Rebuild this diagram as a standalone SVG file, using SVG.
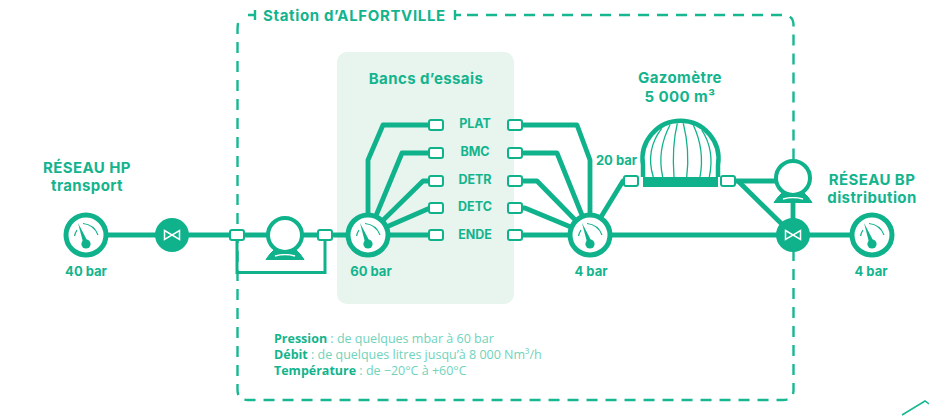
<svg xmlns="http://www.w3.org/2000/svg" xmlns:xlink="http://www.w3.org/1999/xlink" width="929" height="416" viewBox="0 0 929 416">
<style>
text{font-family:"Inter","Open Sans",sans-serif;fill:#13b48d;font-weight:700}
.t{font-size:15px;text-anchor:middle;letter-spacing:.4px}
.l{font-size:12.500px;text-anchor:middle}
.b{font-size:13px;text-anchor:middle}
.p{font-family:"Open Sans",sans-serif;font-size:12.500px;font-weight:400;fill:#6fd3bb}
.p tspan{font-weight:700;fill:#13b48d}
.pipe{fill:none;stroke:#10b28c;stroke-width:4.800;stroke-linejoin:round}
.thin{fill:none;stroke:#10b28c;stroke-width:3}
.dash{fill:none;stroke:#17b792;stroke-width:2.400;stroke-dasharray:11 8}
.frame{fill:none;stroke:#17b792;stroke-width:2.400}
.box{fill:#fff;stroke:#10b28c;stroke-width:2}
</style>
<defs>
<g id="gauge">
<circle r="20" fill="#fff" stroke="#10b28c" stroke-width="5"/>
<circle cx="0" cy="9" r="4.600" fill="#10b28c"/>
<path d="M-8,-12 L-2.500,9 L2.500,8 Z" fill="#10b28c"/>
<path d="M-3,-11.500 A18,18 0 0 1 12,0" fill="none" stroke="#10b28c" stroke-width="1.200"/>
<path d="M-11.500,1 A18,18 0 0 1 -9,-5" fill="none" stroke="#10b28c" stroke-width="1.200"/>
</g>
<g id="valve">
<circle r="17" fill="#10b28c"/>
<path d="M-7.500,-4.500 L7.500,4.500 V-4.500 L-7.500,4.500 Z" fill="none" stroke="#fff" stroke-width="1.500"/>
</g>
<g id="pump">
<path d="M-19,24.500 L-15,19 L-9,13 H9 L15,19 L19,24.500 Z" fill="#10b28c" stroke="#10b28c" stroke-linejoin="round"/>
<path d="M-10,21 Q0,18 10,21" fill="none" stroke="#fff" stroke-width="1.400"/>
<circle r="17" fill="#fff" stroke="#10b28c" stroke-width="4"/>
</g>
<rect id="b" x="-7" y="-5" width="14" height="10" rx="2" class="box"/>
</defs>

<g id="frame">
<path class="dash" d="M467,15 H783 Q793.500,15 793.500,25 V160"/>
<path class="dash" d="M793.500,250 V390 Q793.500,400 783,400 H248 Q237.500,400 237.500,390 V30 Q237.500,21 240,19"/>
<path class="frame" d="M248,15 H255 M255,10 V20 M455,10 V20 M455,15 H461"/>
<text x="263" y="21" style="font-size:15px;letter-spacing:.65px">Station d’ALFORTVILLE</text>
</g>
<g id="bancs">
<rect x="337" y="52" width="177" height="252" rx="10" fill="#e8f4ee"/>
<text class="t" x="426" y="84">Bancs d’essais</text>
</g>

<g id="connectors">
<path class="pipe" d="M86,235 H237"/>
<path class="pipe" d="M237,235 H368"/>
<path class="thin" d="M237,235 V272.500 H325 V235"/>
<path class="pipe" d="M368,235 V160 L383,125 H436"/>
<path class="pipe" d="M368,235 L402,153 H436"/>
<path class="pipe" d="M368,235 L423,181 H436"/>
<path class="pipe" d="M368,235 L430,208 H436"/>
<path class="pipe" d="M368,235 H436"/>
<path class="pipe" d="M515,125 H577 L590,160 V235"/>
<path class="pipe" d="M515,153 H557 L590,235"/>
<path class="pipe" d="M515,181 H537 L590,235"/>
<path class="pipe" d="M515,208 H525 L590,235"/>
<path class="pipe" d="M515,235 H872"/>
<path class="pipe" d="M590,235 L623,181 H631"/>
<path class="pipe" d="M728,181 H793"/>
<path class="pipe" d="M738,181 L793,235"/>
<path class="pipe" d="M793,178 V235"/>
</g>

<g id="gauge-hp"><use xlink:href="#gauge" href="#gauge" x="86" y="235"/>
<text class="t" x="87" y="173">RÉSEAU HP</text><text class="t" x="87" y="191">transport</text>
<text class="b" x="86" y="276">40 bar</text></g>
<g id="valve-1"><use xlink:href="#valve" href="#valve" x="172" y="235"/></g>
<g id="box-1"><use xlink:href="#b" href="#b" x="237" y="235"/></g>
<g id="pump-1"><use xlink:href="#pump" href="#pump" x="285" y="235"/></g>
<g id="box-2"><use xlink:href="#b" href="#b" x="325" y="235"/></g>
<g id="gauge-60"><use xlink:href="#gauge" href="#gauge" x="368" y="235"/><text class="b" x="371" y="276">60 bar</text></g>

<g id="bench-plat"><use xlink:href="#b" href="#b" x="436" y="125"/><use xlink:href="#b" href="#b" x="515" y="125"/><text class="l" x="475" y="128">PLAT</text></g>
<g id="bench-bmc"><use xlink:href="#b" href="#b" x="436" y="153"/><use xlink:href="#b" href="#b" x="515" y="153"/><text class="l" x="475" y="156">BMC</text></g>
<g id="bench-detr"><use xlink:href="#b" href="#b" x="436" y="181"/><use xlink:href="#b" href="#b" x="515" y="181"/><text class="l" x="475" y="184">DETR</text></g>
<g id="bench-detc"><use xlink:href="#b" href="#b" x="436" y="208"/><use xlink:href="#b" href="#b" x="515" y="208"/><text class="l" x="475" y="211">DETC</text></g>
<g id="bench-ende"><use xlink:href="#b" href="#b" x="436" y="235"/><use xlink:href="#b" href="#b" x="515" y="235"/><text class="l" x="475" y="239">ENDE</text></g>

<g id="gauge-4"><use xlink:href="#gauge" href="#gauge" x="590" y="235"/><text class="b" x="591" y="276">4 bar</text></g>
<g id="box-3"><use xlink:href="#b" href="#b" x="631" y="181"/><text class="b" x="616.500" y="165">20 bar</text></g>

<g id="gazometre">
<path d="M643,177 V165 A38,38 0 1 1 718,165 V177" fill="#fff" stroke="#10b28c" stroke-width="4.500"/>
<path d="M653.300,177 Q645,150 661.700,128.300 M662.700,177 Q656.700,150 670,125 M674,177 Q671.700,146.700 677.300,123.300 M686.700,177 Q690,150 683.300,123.300 M700,177 Q705,150 693.300,125 M709.300,177 Q715,150 701.700,130" fill="none" stroke="#10b28c" stroke-width="1.300"/>
<rect x="643" y="177" width="75" height="10" fill="#10b28c"/>
<text class="t" x="680" y="83">Gazomètre</text><text class="t" x="680" y="102">5 000 m³</text>
</g>
<g id="box-4"><use xlink:href="#b" href="#b" x="728" y="181"/></g>
<g id="pump-2"><use xlink:href="#pump" href="#pump" x="793" y="178"/></g>
<g id="valve-2"><use xlink:href="#valve" href="#valve" x="793" y="235"/></g>
<g id="gauge-bp"><use xlink:href="#gauge" href="#gauge" x="872" y="235"/>
<text class="t" x="872" y="185">RÉSEAU BP</text><text class="t" x="872" y="203">distribution</text>
<text class="b" x="871" y="276">4 bar</text></g>

<g id="specs">
<text class="p" x="274" y="343"><tspan>Pression</tspan> : de quelques mbar à 60 bar</text>
<text class="p" x="274" y="359"><tspan>Débit</tspan> : de quelques litres jusqu’à 8 000 Nm³/h</text>
<text class="p" x="274" y="375"><tspan>Température</tspan> : de −20°C à +60°C</text>
</g>
<path d="M902,415 L925,401 L929,404" fill="none" stroke="#17b792" stroke-width="1.500"/>
</svg>
